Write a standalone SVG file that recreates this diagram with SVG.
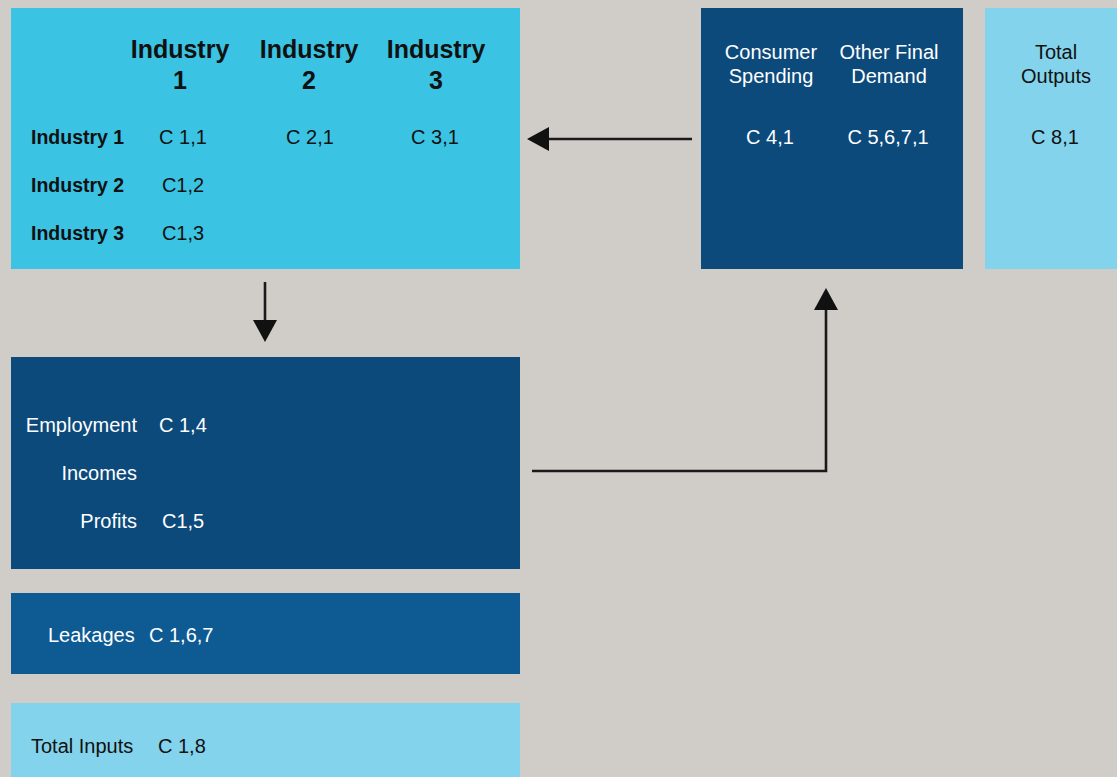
<svg xmlns="http://www.w3.org/2000/svg" width="1117" height="777" viewBox="0 0 1117 777">
<style>
text{font-family:"Liberation Sans",Arial,sans-serif;font-size:20px}
.b{font-weight:bold;font-size:19.5px}
.h{font-weight:bold;font-size:25px}
.d{fill:#111}
.w{fill:#fff}
.m{text-anchor:middle}
.e{text-anchor:end}
.ln{fill:none;stroke:#1a1a1a;stroke-width:2.6}
.hd{fill:#111}
</style>
<rect width="1117" height="777" fill="#d0cdc9"/>
<g id="industries">
<rect x="11" y="8" width="509" height="261" fill="#3ac3e3"/>
<text class="h d m" x="180" y="58">Industry</text>
<text class="h d m" x="180" y="89">1</text>
<text class="h d m" x="309" y="58">Industry</text>
<text class="h d m" x="309" y="89">2</text>
<text class="h d m" x="436" y="58">Industry</text>
<text class="h d m" x="436" y="89">3</text>
<text class="b d" x="31" y="144">Industry 1</text>
<text class="b d" x="31" y="192">Industry 2</text>
<text class="b d" x="31" y="240">Industry 3</text>
<text class="d m" x="183" y="144">C 1,1</text>
<text class="d m" x="310" y="144">C 2,1</text>
<text class="d m" x="435" y="144">C 3,1</text>
<text class="d m" x="183" y="192">C1,2</text>
<text class="d m" x="183" y="240">C1,3</text>
</g>
<g id="final-demand">
<rect x="701" y="8" width="262" height="261" fill="#0c4a7c"/>
<text class="w m" x="771" y="59">Consumer</text>
<text class="w m" x="771" y="83">Spending</text>
<text class="w m" x="889" y="59">Other Final</text>
<text class="w m" x="889" y="83">Demand</text>
<text class="w m" x="770" y="144">C 4,1</text>
<text class="w m" x="888" y="144">C 5,6,7,1</text>
</g>
<g id="total-outputs">
<rect x="985" y="8" width="132" height="261" fill="#84d3ec"/>
<text class="d m" x="1056" y="59">Total</text>
<text class="d m" x="1056" y="83">Outputs</text>
<text class="d m" x="1055" y="144">C 8,1</text>
</g>
<g id="value-added">
<rect x="11" y="357" width="509" height="212" fill="#0c4a7c"/>
<text class="w e" x="137" y="432">Employment</text>
<text class="w" x="159" y="432">C 1,4</text>
<text class="w e" x="137" y="480">Incomes</text>
<text class="w e" x="137" y="528">Profits</text>
<text class="w" x="162" y="528">C1,5</text>
</g>
<g id="leakages">
<rect x="11" y="593" width="509" height="81" fill="#0e5b94"/>
<text class="w" x="48" y="642">Leakages</text>
<text class="w" x="149" y="642">C 1,6,7</text>
</g>
<g id="total-inputs">
<rect x="11" y="703" width="509" height="74" fill="#84d3ec"/>
<text class="d" x="31" y="753">Total Inputs</text>
<text class="d" x="158" y="753">C 1,8</text>
</g>
<g id="connectors">
<line class="ln" x1="692" y1="139" x2="546" y2="139"/>
<polygon class="hd" points="527,139 549,127 549,151"/>
<line class="ln" x1="265" y1="282" x2="265" y2="322"/>
<polygon class="hd" points="265,342 253,320 277,320"/>
<polyline class="ln" points="532,471 826,471 826,308"/>
<polygon class="hd" points="826,288 814,310 838,310"/>
</g>
</svg>
